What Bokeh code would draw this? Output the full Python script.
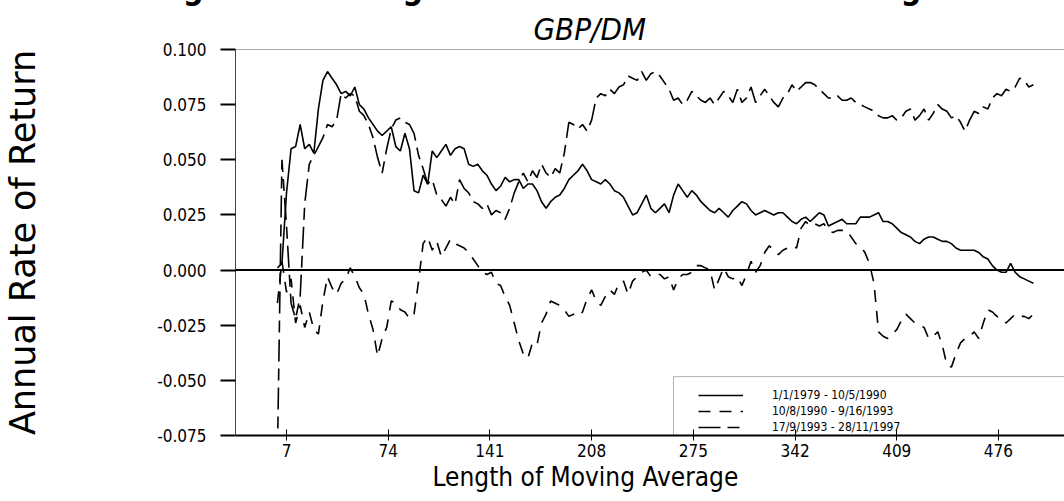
from bokeh.plotting import figure
from bokeh.models import (Range1d, FixedTicker, NumeralTickFormatter, Span, Title,
                          Legend, LegendItem, BoxAnnotation)
from bokeh.embed import file_html
from bokeh.resources import INLINE
from bokeh.core.properties import value

# ---------------- data ----------------
ma_length = list(range(1, 500, 3))

ret_1979_1990 = [
    0.001, 0.003, 0.035, 0.055, 0.056, 0.066, 0.055, 0.057, 0.053, 0.073,
    0.086, 0.090, 0.087, 0.084, 0.080, 0.081, 0.079, 0.083, 0.075, 0.073,
    0.069, 0.066, 0.063, 0.061, 0.063, 0.065, 0.056, 0.054, 0.062, 0.055,
    0.036, 0.035, 0.043, 0.039, 0.054, 0.051, 0.054, 0.057, 0.052, 0.055,
    0.056, 0.055, 0.048, 0.047, 0.048, 0.045, 0.043, 0.039, 0.036, 0.038,
    0.042, 0.040, 0.041, 0.041, 0.037, 0.039, 0.039, 0.036, 0.031, 0.028,
    0.031, 0.033, 0.034, 0.037, 0.041, 0.043, 0.045, 0.048, 0.045, 0.041,
    0.040, 0.039, 0.041, 0.039, 0.036, 0.035, 0.033, 0.029, 0.025, 0.026,
    0.030, 0.034, 0.028, 0.026, 0.028, 0.030, 0.026, 0.034, 0.039, 0.036,
    0.033, 0.036, 0.034, 0.031, 0.029, 0.027, 0.026, 0.028, 0.026, 0.024,
    0.027, 0.029, 0.031, 0.030, 0.027, 0.025, 0.026, 0.027, 0.026, 0.025,
    0.026, 0.026, 0.024, 0.022, 0.021, 0.023, 0.024, 0.022, 0.024, 0.026,
    0.025, 0.020, 0.021, 0.022, 0.023, 0.021, 0.021, 0.021, 0.024, 0.024,
    0.024, 0.025, 0.026, 0.022, 0.022, 0.021, 0.019, 0.017, 0.016, 0.015,
    0.013, 0.012, 0.014, 0.015, 0.015, 0.014, 0.013, 0.013, 0.012, 0.010,
    0.009, 0.009, 0.009, 0.009, 0.008, 0.006, 0.005, 0.002, 0.000, -0.001,
    -0.001, 0.003, -0.001, -0.003, -0.004, -0.005, -0.006,
]

ret_1990_1993 = [
    -0.015, 0.004, -0.010, -0.004, -0.024, -0.016, -0.026, -0.019, -0.027, -0.029,
    -0.014, -0.003, -0.008, -0.011, -0.006, -0.004, 0.001, -0.003, -0.008, -0.011,
    -0.020, -0.027, -0.039, -0.031, -0.026, -0.014, -0.015, -0.018, -0.019, -0.022,
    -0.020, -0.005, 0.012, 0.015, 0.009, 0.013, 0.006, 0.010, 0.014, 0.012,
    0.011, 0.010, 0.008, 0.005, 0.002, -0.001, -0.002, -0.001, -0.006, -0.007,
    -0.012, -0.016, -0.024, -0.032, -0.038, -0.040, -0.033, -0.034, -0.024, -0.020,
    -0.014, -0.015, -0.016, -0.018, -0.021, -0.020, -0.021, -0.019, -0.013, -0.009,
    -0.014, -0.016, -0.012, -0.009, -0.011, -0.006, -0.005, -0.011, -0.005, -0.003,
    -0.001, 0.000, -0.003, -0.002, -0.002, -0.004, -0.003, -0.009, -0.004, -0.002,
    -0.002, -0.001, 0.002, 0.002, 0.001, 0.000, -0.009, -0.004, 0.001, -0.003,
    -0.004, -0.003, -0.007, -0.002, 0.004, -0.001, 0.002, 0.008, 0.011, 0.009,
    0.007, 0.009, 0.010, 0.011, 0.010, 0.019, 0.022, 0.020, 0.021, 0.020,
    0.021, 0.018, 0.017, 0.018, 0.018, 0.018, 0.015, 0.012, 0.011, 0.008,
    0.003, -0.006, -0.028, -0.030, -0.031, -0.029, -0.027, -0.023, -0.020, -0.022,
    -0.024, -0.025, -0.026, -0.031, -0.030, -0.028, -0.034, -0.043, -0.044, -0.038,
    -0.033, -0.031, -0.030, -0.028, -0.031, -0.024, -0.018, -0.019, -0.021, -0.022,
    -0.024, -0.022, -0.020, -0.021, -0.021, -0.022, -0.020,
]

ret_1993_1997 = [
    -0.085, 0.050, 0.020, -0.015, -0.022, -0.012, 0.030, 0.048, 0.052, 0.056,
    0.060, 0.066, 0.065, 0.068, 0.080, 0.078, 0.080, 0.079, 0.072, 0.070,
    0.066, 0.060, 0.051, 0.044, 0.055, 0.064, 0.068, 0.069, 0.067, 0.066,
    0.062, 0.052, 0.046, 0.039, 0.041, 0.034, 0.032, 0.029, 0.033, 0.030,
    0.041, 0.037, 0.035, 0.031, 0.030, 0.028, 0.030, 0.025, 0.027, 0.026,
    0.023, 0.028, 0.035, 0.040, 0.044, 0.040, 0.045, 0.042, 0.048, 0.044,
    0.042, 0.046, 0.044, 0.053, 0.067, 0.066, 0.064, 0.066, 0.063, 0.068,
    0.078, 0.080, 0.079, 0.082, 0.080, 0.083, 0.084, 0.088, 0.087, 0.086,
    0.090, 0.086, 0.089, 0.090, 0.088, 0.085, 0.082, 0.077, 0.078, 0.075,
    0.077, 0.081, 0.079, 0.077, 0.076, 0.078, 0.075, 0.078, 0.081, 0.079,
    0.076, 0.082, 0.076, 0.078, 0.083, 0.076, 0.079, 0.082, 0.079, 0.076,
    0.074, 0.078, 0.080, 0.084, 0.081, 0.083, 0.085, 0.085, 0.084, 0.082,
    0.080, 0.078, 0.078, 0.079, 0.077, 0.077, 0.078, 0.076, 0.075, 0.074,
    0.073, 0.072, 0.070, 0.069, 0.069, 0.070, 0.068, 0.069, 0.072, 0.073,
    0.068, 0.070, 0.073, 0.068, 0.071, 0.075, 0.073, 0.072, 0.069, 0.070,
    0.067, 0.063, 0.068, 0.072, 0.071, 0.074, 0.073, 0.078, 0.080, 0.079,
    0.082, 0.081, 0.083, 0.087, 0.086, 0.083, 0.084,
]

series_labels = ["1/1/1979 - 10/5/1990", "10/8/1990 - 9/16/1993", "17/9/1993 - 28/11/1997"]
x_ticks = [7, 74, 141, 208, 275, 342, 409, 476]
y_ticks = [-0.075, -0.05, -0.025, 0.0, 0.025, 0.05, 0.075, 0.1]

main_title = "Figure 1: Average Annual Returns from Trading Rules"
sub_title = "GBP/DM"
x_title = "Length of Moving Average"
y_title = "Annual Rate of Return"

# ---------------- styling ----------------
COND = "DejaVu Sans Condensed"
REGULAR = "DejaVu Sans"
TOP_HIDDEN = 32   # top strip of the canvas pushed above the window (title is cut off)

p = figure(width=1064, height=501 + TOP_HIDDEN, output_backend="svg", toolbar_location=None,
           x_range=Range1d(-26.6, 519.5), y_range=Range1d(-0.075, 0.1),
           min_border_left=235, min_border_right=0,
           min_border_top=48 + TOP_HIDDEN, min_border_bottom=66,
           background_fill_color="white", border_fill_color="white")
p.styles = {"margin-top": f"-{TOP_HIDDEN}px"}
p.outline_line_color = None
p.xgrid.visible = False
p.ygrid.visible = False

# y axis
ya = p.yaxis[0]
ya.ticker = FixedTicker(ticks=y_ticks)
ya.formatter = NumeralTickFormatter(format="0.000")
ya.axis_line_color = "#444444"
ya.axis_line_width = 1
ya.major_tick_in = 0
ya.major_tick_out = 15
ya.major_tick_line_width = 2
ya.major_tick_line_color = "black"
ya.minor_tick_line_color = None
ya.major_label_standoff = 14
ya.major_label_text_font = COND
ya.major_label_text_font_size = "17px"
ya.major_label_text_color = "black"
ya.axis_label = y_title
ya.axis_label_text_font = REGULAR
ya.axis_label_text_font_size = "35px"
ya.axis_label_text_font_style = "normal"
ya.axis_label_text_color = "black"
ya.axis_label_standoff = 111

# x axis
xa = p.xaxis[0]
xa.ticker = FixedTicker(ticks=x_ticks)
xa.axis_line_color = "black"
xa.axis_line_width = 2
xa.major_tick_in = 6
xa.major_tick_out = 5
xa.major_tick_line_width = 1
xa.major_tick_line_color = "black"
xa.minor_tick_line_color = None
xa.major_label_standoff = 3
xa.major_label_text_font = COND
xa.major_label_text_font_size = "17px"
xa.major_label_text_color = "black"

# frame top line and zero line
p.add_layout(Span(location=0.1, dimension="width", line_color="#555555", line_width=1))
p.add_layout(Span(location=0.0, dimension="width", line_color="black", line_width=2))

# series
r1 = p.line(ma_length, ret_1979_1990, line_color="black", line_width=1.6)
r2 = p.line(ma_length, ret_1990_1993, line_color="black", line_width=1.6, line_dash="12 9")
r3 = p.line(ma_length, ret_1993_1997, line_color="black", line_width=1.6, line_dash="22 7 12 7")

# legend box (extends past right edge, sits on the x axis)
p.add_layout(BoxAnnotation(left=261.9, right=700, bottom=-0.075, top=-0.0483,
                           fill_color="white", fill_alpha=1.0,
                           line_color="black", line_width=1, level="underlay"))

legend = Legend(items=[LegendItem(label=value(series_labels[0]), renderers=[r1]),
                       LegendItem(label=value(series_labels[1]), renderers=[r2]),
                       LegendItem(label=value(series_labels[2]), renderers=[r3])],
                location=(463, 0), orientation="vertical",
                border_line_color=None, background_fill_alpha=0.0,
                padding=5, spacing=0, margin=0,
                glyph_width=45, glyph_height=16, label_height=16, label_standoff=29,
                label_text_font=COND, label_text_font_size="12px",
                label_text_color="black")
p.add_layout(legend)

# titles (sub title nearest the frame, main title above it, partly off the page)
p.add_layout(Title(text=sub_title, align="left", offset=298, standoff=6,
                   text_font=COND, text_font_style="italic", text_font_size="31px",
                   text_color="black"), "above")
p.add_layout(Title(text=main_title, align="left", offset=-82, standoff=-3,
                   text_font=COND, text_font_style="bold", text_font_size="32px",
                   text_color="black"), "above")
# x axis title
p.add_layout(Title(text=x_title, align="left", offset=197, standoff=0,
                   text_font=COND, text_font_style="normal", text_font_size="26px",
                   text_color="black"), "below")

open("out.html", "w").write(file_html(p, INLINE))
